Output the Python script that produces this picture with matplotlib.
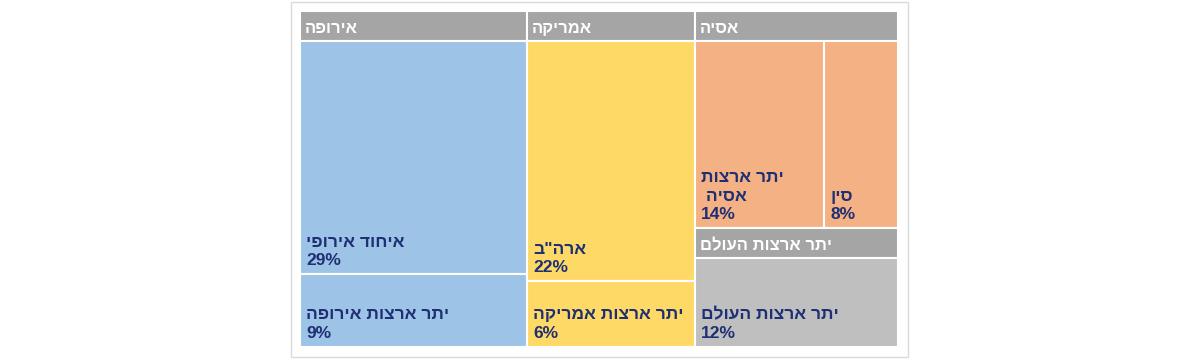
import matplotlib.pyplot as plt
from matplotlib.patches import Rectangle

# data
groups = ['אירופה', 'אמריקה', 'אסיה', 'יתר ארצות העולם']
leaf_names = [['איחוד אירופי', 'יתר ארצות אירופה'],
              ['ארה"ב', 'יתר ארצות אמריקה'],
              ['יתר ארצות\nאסיה ', 'סין'],
              ['יתר ארצות העולם']]
leaf_values = [[29, 9], [22, 6], [14, 8], [12]]
group_colors = ['#9DC3E6', '#FFD966', '#F4B183', '#BFBFBF']
split_dir = ['v', 'v', 'h', 'v']

HEADER = '#A5A5A5'
NAVY = '#1E2F74'
FONT = 'Liberation Sans'


def vis(s):
    # matplotlib has no bidi, flip each line by hand
    return '\n'.join(line[::-1] for line in s.split('\n'))


fig = plt.figure(figsize=(12, 3.59), dpi=100)
ax = fig.add_axes([0, 0, 1, 1])
ax.set_xlim(0, 1200)
ax.set_ylim(359, 0)
ax.axis('off')

# outer frame
ax.add_patch(Rectangle((291, 2), 617, 355, fill=False, edgecolor='#D9D9D9', lw=1))

x0, x1, y0, y1 = 300, 898, 11, 347
hdr_h = 29.5
totals = [sum(v) for v in leaf_values]

# three columns: europe, america, asia + rest of world stacked
cols = [[0], [1], [2, 3]]
col_tot = [sum(totals[i] for i in c) for c in cols]
W = x1 - x0
H = y1 - y0

rects = {}
cx = x0
for c, ct in zip(cols, col_tot):
    cw = W * ct / sum(col_tot)
    cy = y0
    for gi in c:
        gh = H * totals[gi] / ct
        rects[gi] = (cx, cy, cw, gh)
        cy += gh
    cx += cw

for gi, g in enumerate(groups):
    gx, gy, gw, gh = rects[gi]
    ax.add_patch(Rectangle((gx, gy), gw, hdr_h, facecolor=HEADER,
                           edgecolor='white', lw=1.5))
    ax.text(gx + 5, gy + hdr_h / 2 + 2.5, vis(g), color='white', fontsize=12,
            fontweight='bold', family=FONT, ha='left', va='center')
    ly = gy + hdr_h
    lh = gh - hdr_h
    lx = gx
    for name, v in zip(leaf_names[gi], leaf_values[gi]):
        if split_dir[gi] == 'v':
            rw, rh = gw, lh * v / totals[gi]
        else:
            rw, rh = gw * v / totals[gi], lh
        ax.add_patch(Rectangle((lx, ly), rw, rh, facecolor=group_colors[gi],
                               edgecolor='white', lw=1.5))
        ax.text(lx + 6, ly + rh - 6, vis(name) + '\n' + f'{v}%', color=NAVY,
                fontsize=12.5, fontweight='bold', family=FONT, ha='left',
                va='bottom', linespacing=1.3)
        if split_dir[gi] == 'v':
            ly += rh
        else:
            lx += rw

fig.savefig('out.png', dpi=100, facecolor='white')
